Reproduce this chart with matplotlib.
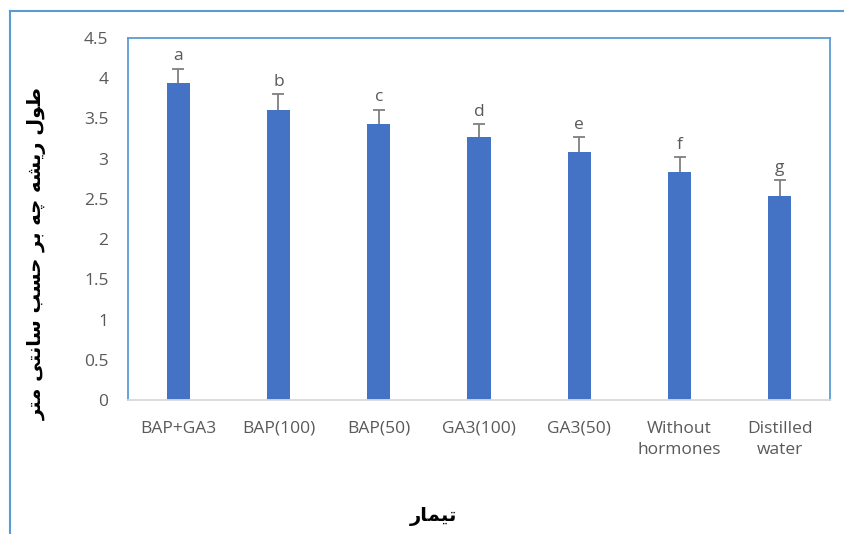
import matplotlib.pyplot as plt
from matplotlib.lines import Line2D
import numpy as np

# داده‌ها
treatments = ['BAP+GA3', 'BAP(100)', 'BAP(50)', 'GA3(100)', 'GA3(50)',
              'Without\nhormones', 'Distilled\nwater']
lengths = [3.94, 3.61, 3.43, 3.27, 3.08, 2.84, 2.54]
errors = [0.18, 0.19, 0.18, 0.16, 0.19, 0.18, 0.19]
letters = ['a', 'b', 'c', 'd', 'e', 'f', 'g']
y_ticks = [0, 0.5, 1, 1.5, 2, 2.5, 3, 3.5, 4, 4.5]
y_tick_labels = ['0', '0.5', '1', '1.5', '2', '2.5', '3', '3.5', '4', '4.5']

ylabel_fa = 'طول ریشه چه بر حسب سانتی متر'
xlabel_fa = 'تیمار'

BAR_COLOR = '#4472C4'
FRAME_COLOR = '#5B9BD5'
TEXT_GRAY = '#595959'
ERR_GRAY = '#7F7F7F'

# اشکال نمایشی حروف (منفرد، پایانی، آغازی، میانی)
FORMS = {
    'ا': ('\uFE8D', '\uFE8E', None, None),
    'ب': ('\uFE8F', '\uFE90', '\uFE91', '\uFE92'),
    'ت': ('\uFE95', '\uFE96', '\uFE97', '\uFE98'),
    'ح': ('\uFEA1', '\uFEA2', '\uFEA3', '\uFEA4'),
    'چ': ('\uFB7A', '\uFB7B', '\uFB7C', '\uFB7D'),
    'ر': ('\uFEAD', '\uFEAE', None, None),
    'س': ('\uFEB1', '\uFEB2', '\uFEB3', '\uFEB4'),
    'ش': ('\uFEB5', '\uFEB6', '\uFEB7', '\uFEB8'),
    'ط': ('\uFEC1', '\uFEC2', '\uFEC3', '\uFEC4'),
    'ل': ('\uFEDD', '\uFEDE', '\uFEDF', '\uFEE0'),
    'م': ('\uFEE1', '\uFEE2', '\uFEE3', '\uFEE4'),
    'ن': ('\uFEE5', '\uFEE6', '\uFEE7', '\uFEE8'),
    'ه': ('\uFEE9', '\uFEEA', '\uFEEB', '\uFEEC'),
    'و': ('\uFEED', '\uFEEE', None, None),
    'ی': ('\uFBFC', '\uFBFD', '\uFBFE', '\uFBFF'),
}


def shape_fa(text):
    """متن فارسی را به اشکال پیوسته تبدیل و برای رسم چپ‌به‌راست معکوس می‌کند."""
    out = []
    for i, ch in enumerate(text):
        if ch not in FORMS:
            out.append(ch)
            continue
        prev = text[i - 1] if i > 0 else ''
        nxt = text[i + 1] if i + 1 < len(text) else ''
        join_prev = prev in FORMS and FORMS[prev][2] is not None
        join_next = FORMS[ch][2] is not None and nxt in FORMS
        iso, fin, ini, med = FORMS[ch]
        if join_prev and join_next:
            out.append(med)
        elif join_prev:
            out.append(fin)
        elif join_next:
            out.append(ini)
        else:
            out.append(iso)
    return ''.join(out)[::-1]


plt.rcParams['font.family'] = ['Open Sans', 'DejaVu Sans']

fig = plt.figure(figsize=(8.44, 5.34), dpi=100)
ax = fig.add_axes([0.1517, 0.2509, 0.8317, 0.6779])

x = np.arange(len(treatments))
upper = np.array(lengths) + np.array(errors)
ax.bar(x, lengths, width=0.23, color=BAR_COLOR, zorder=2)
# خطای فقط رو به بالا
ax.errorbar(x, lengths, yerr=[np.zeros(len(errors)), errors], fmt='none',
            ecolor=ERR_GRAY, elinewidth=1.3, capsize=0, zorder=1)
ax.plot(x, upper, linestyle='none', marker='_', markersize=8,
        markeredgewidth=1.3, color=ERR_GRAY, zorder=3)

for xi, u, lab in zip(x, upper, letters):
    ax.annotate(lab, (xi, u), xytext=(0, 3), textcoords='offset points',
                ha='center', va='bottom', fontsize=12.5, color=TEXT_GRAY)

ax.set_xlim(-0.5, len(treatments) - 0.5)
ax.set_ylim(0, 4.5)
ax.set_yticks(y_ticks)
ax.set_yticklabels(y_tick_labels)
ax.set_xticks(x)
ax.set_xticklabels(treatments, linespacing=1.45)
ax.tick_params(axis='both', length=0, labelsize=12.5, labelcolor=TEXT_GRAY)
ax.tick_params(axis='y', pad=14)
ax.tick_params(axis='x', pad=15)

for side in ['left', 'top', 'right']:
    ax.spines[side].set_color(FRAME_COLOR)
    ax.spines[side].set_linewidth(1.3)
ax.spines['bottom'].set_color('#D9D9D9')
ax.spines['bottom'].set_linewidth(1.3)

fig.text(0.044, 0.525, shape_fa(ylabel_fa), rotation=90, ha='center', va='center',
         fontsize=14, fontweight='bold', color='black', family=['DejaVu Sans'])
fig.text(0.514, 0.032, shape_fa(xlabel_fa), ha='center', va='center',
         fontsize=14, fontweight='bold', color='black', family=['DejaVu Sans'])

# قاب بیرونی نمودار
fig.add_artist(Line2D([0.012, 1.0], [0.979, 0.979], color=FRAME_COLOR, lw=1.5))
fig.add_artist(Line2D([0.012, 0.012], [0.0, 0.979], color=FRAME_COLOR, lw=1.5))

fig.savefig('out.png', dpi=100)
